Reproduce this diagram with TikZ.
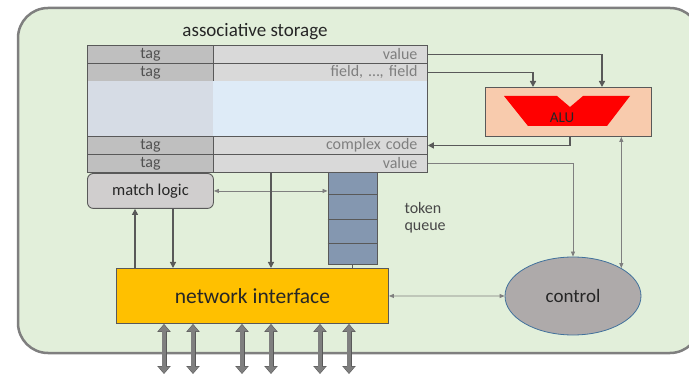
\documentclass[tikz,border=0pt]{standalone}
\usepackage{fontspec}
\setmainfont{Carlito}
\usetikzlibrary{arrows.meta,shapes.geometric,shapes.misc}
\definecolor{bgreen}{HTML}{E2EFDA}
\definecolor{frame}{HTML}{7F7F7F}
\definecolor{dgray}{HTML}{595959}
\definecolor{tagc}{HTML}{BFBFBF}
\definecolor{valc}{HTML}{D9D9D9}
\definecolor{blueL}{HTML}{D6DCE5}
\definecolor{blueR}{HTML}{DEEBF7}
\definecolor{mlc}{HTML}{D0CECE}
\definecolor{queuec}{HTML}{8497B0}
\definecolor{nic}{HTML}{FFC000}
\definecolor{aluc}{HTML}{F8CBAD}
\definecolor{ctrlc}{HTML}{AEAAAA}
\definecolor{ctrlb}{HTML}{41719C}
\definecolor{txt}{HTML}{262626}
\tikzset{
  cellbase/.style={draw=dgray, line width=0.9pt, anchor=north west, minimum height=18pt, inner sep=0pt, font=\fontsize{16}{16}\selectfont},
  tagcell/.style={cellbase, fill=tagc, minimum width=126pt, text=txt!80},
  valcell/.style={cellbase, fill=valc, text width=194pt, align=right, inner xsep=10pt, text=frame},
  thin arrow/.style={draw=frame, line width=0.8pt, -{Triangle[length=5pt,width=4pt]}},
  thick arrow/.style={draw=dgray, line width=1.6pt, -{Triangle[length=6pt,width=6pt]}},
  big arrow/.style={draw=frame!70!black, line width=5pt, {Triangle[length=8pt,width=13pt]}-{Triangle[length=8pt,width=13pt]}},
  big arrow inner/.style={draw=frame, line width=3.4pt, {Triangle[length=6.6pt,width=10.6pt]}-{Triangle[length=6.6pt,width=10.6pt]}}
}
\begin{document}
\begin{tikzpicture}[x=1pt,y=-1pt]
\path[use as bounding box, clip] (0,0) rectangle (689,377);
% outer frame
\draw[fill=bgreen, draw=frame, line width=2.5pt, rounded corners=30pt] (18,8) rectangle (700,353);
\node[font=\fontsize{19}{20}\selectfont, text=txt] (title) at (255,32) {associative storage};
% storage table
\node[tagcell] (t1) at (87,45) {tag};
\node[valcell] (v1) at (213,45) {value};
\node[tagcell] (t2) at (87,63) {tag};
\node[valcell] (v2) at (213,63) {field, \dots, field};
\node[cellbase, fill=blueL, draw=none, minimum width=126pt, minimum height=55pt] (b1) at (87,81) {};
\node[cellbase, fill=blueR, draw=none, minimum width=214pt, minimum height=55pt] (b2) at (213,81) {};
\draw[dgray, line width=0.9pt] (b1.north west) -- (b1.south west) (b2.north east) -- (b2.south east);
\node[tagcell] (t3) at (87,136) {tag};
\node[valcell] (v3) at (213,136) {complex code};
\node[tagcell] (t4) at (87,154) {tag};
\node[valcell] (v4) at (213,154) {value};
% match logic
\node[draw=dgray, line width=0.9pt, fill=mlc, rounded corners=6pt, minimum width=126pt, minimum height=35pt, anchor=north west, font=\fontsize{16.5}{18}\selectfont, text=txt] (ml) at (87,173) {match logic};
% token queue
\node[chamfered rectangle, chamfered rectangle corners={north west,north east}, chamfered rectangle xsep=7pt, chamfered rectangle ysep=7pt, draw=dgray, line width=0.9pt, fill=queuec, minimum width=49pt, minimum height=92pt, inner sep=0pt, anchor=north west] (queue) at (328,172) {};
\foreach \yy in {194,219,243} \draw[dgray, line width=0.9pt] (queue.west |- 0,\yy) -- (queue.east |- 0,\yy);
\node[align=left, anchor=west, font=\fontsize{16}{17}\selectfont, text=txt!85] (tq) at (401,218) {token\\queue};
% network interface
\node[draw=dgray, line width=0.9pt, fill=nic, minimum width=272pt, minimum height=55pt, anchor=north west, font=\fontsize{21.5}{22}\selectfont, text=txt] (ni) at (116,268) {network interface};
% ALU
\node[draw=dgray, line width=0.9pt, fill=aluc, minimum width=166pt, minimum height=49pt, anchor=north west] (alu) at (485,87) {};
\fill[red] (504,96) -- (557,96) -- (570,107) -- (583,96) -- (630,96) -- (607,126) -- (528,126) -- cycle;
\node[font=\fontsize{15}{16}\selectfont, text=txt] (alut) at (562,118) {ALU};
% control
\node[ellipse, draw=ctrlb, line width=0.8pt, fill=ctrlc, minimum width=136pt, minimum height=78pt, font=\fontsize{19}{20}\selectfont, text=txt] (ctrl) at (573,296) {control};
% thick arrows to/from ALU
\draw[thick arrow] (v1.east) -| (alu.north -| 602,0);
\draw[thick arrow] (v2.east) -| (alu.north -| 533,0);
\draw[thick arrow] (alu.south -| 570,0) |- (v3.east);
% thin connectors
\draw[thin arrow] (v4.east) -| (ctrl.north);
\draw[thin arrow, {Triangle[length=5pt,width=4pt]}-{Triangle[length=5pt,width=4pt]}] (alu.south -| ctrl.30) -- (ctrl.30);
\draw[thin arrow, {Triangle[length=5pt,width=4pt]}-{Triangle[length=5pt,width=4pt]}] (ni.east) -- (ctrl.west);
\draw[thin arrow, {Triangle[length=5pt,width=4pt]}-{Triangle[length=5pt,width=4pt]}] (ml.east) -- (ml.east -| queue.west);
% vertical connectors
\draw[thick arrow, line width=1.2pt] (ni.north -| 135,0) -- (ml.south -| 135,0);
\draw[thick arrow, line width=1.2pt] (ml.south -| 173,0) -- (ni.north -| 173,0);
\draw[thick arrow, line width=1.2pt] (v4.south -| 271,0) -- (ni.north -| 271,0);
\draw[dgray, line width=1.2pt] (queue.south) -- (ni.north -| queue.south);
% big I/O arrows
\foreach \xx [count=\i] in {164,193,242,271,320,349} {
  \coordinate (io\i) at (\xx,374);
  \draw[big arrow] (ni.south -| io\i) -- (io\i);
  \draw[big arrow inner, shorten <=0.8pt, shorten >=0.8pt] (ni.south -| io\i) -- (io\i);
}
\end{tikzpicture}
\end{document}
